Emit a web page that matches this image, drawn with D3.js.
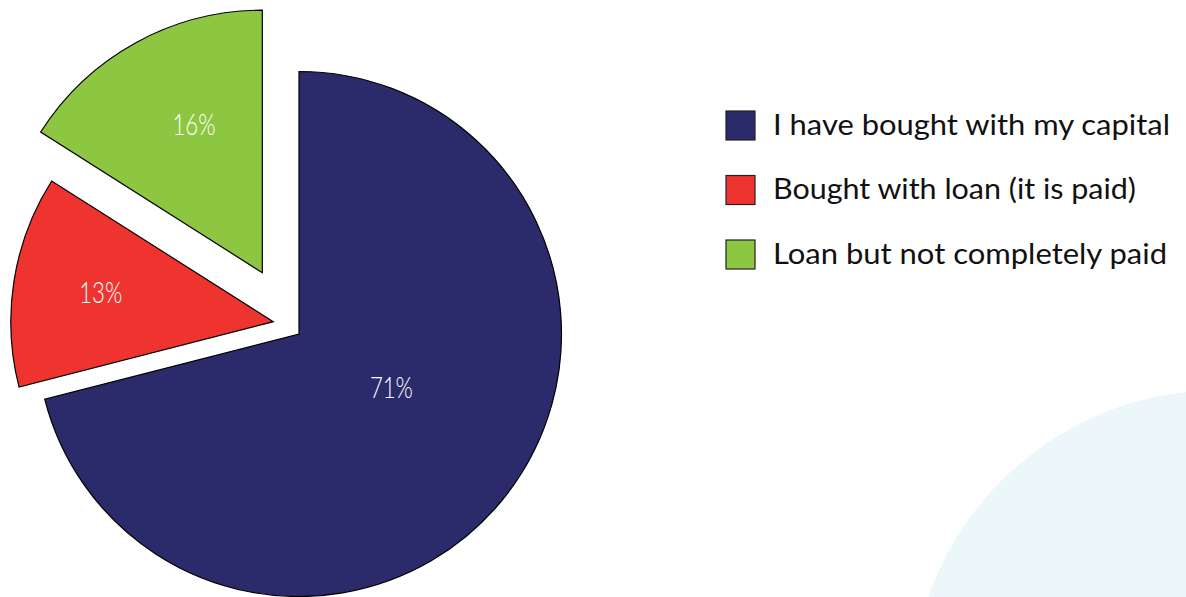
<!DOCTYPE html>
<html>
<head>
<meta charset="utf-8">
<script src="https://cdn.jsdelivr.net/npm/d3@7"></script>
<style>
  html, body { margin: 0; padding: 0; background: #ffffff; }
  svg { display: block; }
</style>
</head>
<body>
<svg id="chart" width="1186" height="597"></svg>
<script>
// Share of respondents by how the home was bought
const categories = [
  "I have bought with my capital",
  "Bought with loan (it is paid)",
  "Loan but not completely paid"
];
const values = [71, 13, 16];
const valueLabels = ["71%", "13%", "16%"];
const colors = ["#2b2a6b", "#ef3430", "#8dc641"];

const W = 1186, H = 597;
const svg = d3.select("#chart");

// soft decorative disc in the lower-right corner
svg.append("circle")
  .attr("cx", 1220).attr("cy", 699).attr("r", 309)
  .attr("fill", "#ebf7f9");

const cx = 299, cy = 334, radius = 262.5;

// per-slice pull-out offsets and label placement
const slicePull = [[0, 0], [-25.7, -12.3], [-36.7, -61.3]];
const labelPlace = [
  { r: 107, turn: -7.5 },
  { r: 175, turn: 0.6 },
  { r: 163, turn: 4 }
];

const pie = d3.pie().sort(null).value(d => d)(values);
const arc = d3.arc().innerRadius(0).outerRadius(radius);

const g = svg.append("g").attr("transform", `translate(${cx},${cy})`);

const slices = g.selectAll("g.slice")
  .data(pie)
  .join("g")
  .attr("class", "slice")
  .attr("transform", (d, i) => `translate(${slicePull[i][0]},${slicePull[i][1]})`);

slices.append("path")
  .attr("d", arc)
  .attr("fill", (d, i) => colors[i])
  .attr("stroke", "#000")
  .attr("stroke-width", 1.2)
  .attr("stroke-linejoin", "miter");

slices.append("text")
  .attr("transform", (d, i) => {
    const a = (d.startAngle + d.endAngle) / 2 + labelPlace[i].turn * Math.PI / 180;
    const r = labelPlace[i].r;
    return `translate(${r * Math.sin(a) - 21.5},${-r * Math.cos(a)})`;
  })
  .attr("dy", "0.36em")
  .attr("fill", "#ffffff")
  .attr("font-family", "Lato, 'Open Sans', sans-serif")
  .attr("font-size", 29)
  .attr("font-weight", 300)
  .attr("textLength", 43)
  .attr("lengthAdjust", "spacingAndGlyphs")
  .text((d, i) => valueLabels[i]);

// legend
const legendWidths = [397, 363, 394];
const legend = svg.append("g").attr("transform", "translate(726,111)");
const rows = legend.selectAll("g")
  .data(categories)
  .join("g")
  .attr("transform", (d, i) => `translate(0,${i * 64.5})`);

rows.append("rect")
  .attr("x", 0).attr("y", 0)
  .attr("width", 29).attr("height", 29)
  .attr("fill", (d, i) => colors[i])
  .attr("stroke", "#222")
  .attr("stroke-width", 1.2);

rows.append("text")
  .attr("x", 47).attr("y", 23.5)
  .attr("fill", "#111")
  .attr("font-family", "Lato, 'Open Sans', sans-serif")
  .attr("font-size", 29)
  .attr("font-weight", 400)
  .attr("textLength", (d, i) => legendWidths[i])
  .attr("lengthAdjust", "spacingAndGlyphs")
  .text(d => d);
</script>
</body>
</html>
